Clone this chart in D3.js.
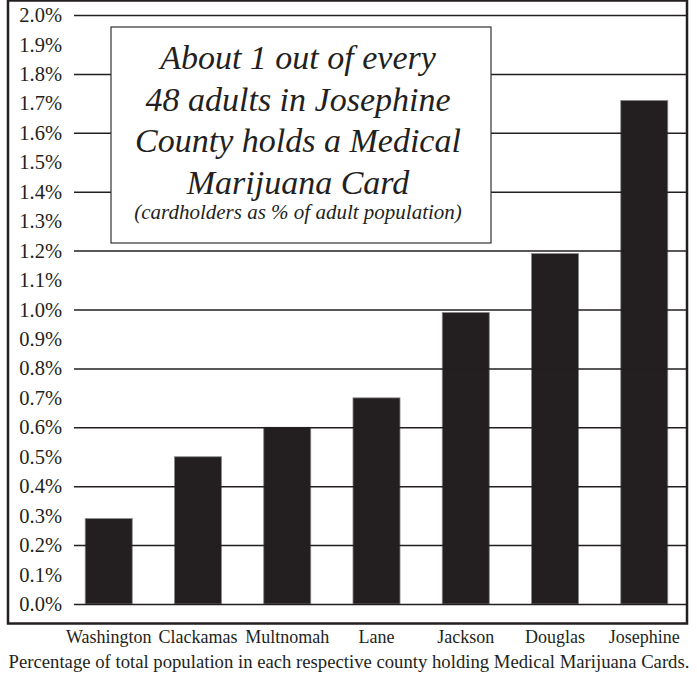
<!DOCTYPE html>
<meta charset="utf-8">
<script src="https://d3js.org/d3.v7.min.js"></script>
<style>
  body { margin: 0; background: #fff; }
  svg text { font-family: "Liberation Serif", "Times New Roman", "DejaVu Serif", serif !important; fill: #231f20; }
</style>
<div id="chart"></div>
<script>
// data
var counties = ["Washington", "Clackamas", "Multnomah", "Lane", "Jackson", "Douglas", "Josephine"];
var pct = [0.29, 0.5, 0.6, 0.7, 0.99, 1.19, 1.71];
var yTicks = d3.range(0, 21).map(function(i) { return i / 10; });
var gridTicks = d3.range(0, 11).map(function(i) { return i / 5; });
var noteLines = ["About 1 out of every", "48 adults in Josephine", "County holds a Medical", "Marijuana Card"];
var noteSub = "(cardholders as % of adult population)";
var footer = "Percentage of total population in each respective county holding Medical Marijuana Cards.";

var W = 697, H = 675;
var ink = "#231f20";

var svg = d3.select("#chart").append("svg")
    .attr("width", W)
    .attr("height", H);

var x = d3.scaleBand()
  .domain(counties)
  .range([67, 686])
  .paddingInner(0.473)
  .paddingOuter(0.204);

var y = d3.scaleLinear()
  .domain([0, 2])
  .range([604, 15]);

// bars
svg.selectAll(".bar")
  .data(pct)
  .enter()
  .append("rect")
    .attr("class", "bar")
    .attr("x", function(d, i) { return x(counties[i]); })
    .attr("y", function(d) { return y(d); })
    .attr("width", x.bandwidth())
    .attr("height", function(d) { return y(0) - y(d); })
    .attr("fill", ink)
    .attr("stroke", "#8a8a8a")
    .attr("stroke-width", 0.8);

// gridlines drawn over the bars, every 0.2%
svg.append("g")
  .attr("class", "grid")
  .attr("transform", "translate(74,0)")
  .call(d3.axisLeft(y).tickValues(gridTicks).tickSize(-(687 - 74)).tickFormat(""))
  .call(function(g) { g.select(".domain").remove(); })
  .selectAll("line")
    .attr("stroke", ink)
    .attr("stroke-width", 1.5);

// tick labels, every 0.1%
svg.append("g")
  .attr("transform", "translate(62,0)")
  .call(d3.axisLeft(y).tickValues(yTicks).tickSize(0).tickPadding(0))
  .call(function(g) { g.select(".domain").remove(); })
  .selectAll("text")
    .text(function(d) { return d3.format(".1f")(d) + "%"; })
    .style("font-size", "20.5px")
    .style("font-style", "normal");

// annotation box
var box = svg.append("g");
box.append("rect")
  .attr("x", 111)
  .attr("y", 27)
  .attr("width", 380)
  .attr("height", 216)
  .attr("fill", "#fff")
  .attr("stroke", "#333")
  .attr("stroke-width", 1.2);

box.selectAll(".note")
  .data(noteLines)
  .enter()
  .append("text")
    .attr("class", "note")
    .attr("x", 298)
    .attr("y", function(d, i) { return 69 + i * 41.5; })
    .attr("text-anchor", "middle")
    .style("font-size", "34px")
    .style("font-style", "italic")
    .text(function(d) { return d; });

box.append("text")
  .attr("x", 298)
  .attr("y", 219)
  .attr("text-anchor", "middle")
  .style("font-size", "21px")
  .style("font-style", "italic")
  .text(noteSub);

// frame
svg.append("rect")
  .attr("x", 8)
  .attr("y", 0.5)
  .attr("width", 679)
  .attr("height", 623)
  .attr("fill", "none")
  .attr("stroke", ink)
  .attr("stroke-width", 2.5);

// category labels
svg.selectAll(".cat")
  .data(counties)
  .enter()
  .append("text")
    .attr("class", "cat")
    .attr("x", function(d) { return x(d) + x.bandwidth() / 2; })
    .attr("y", 643)
    .attr("text-anchor", "middle")
    .style("font-size", "18px")
    .text(function(d) { return d; });

svg.append("text")
  .attr("x", 349)
  .attr("y", 668)
  .attr("text-anchor", "middle")
  .style("font-size", "18.7px")
  .text(footer);
</script>
